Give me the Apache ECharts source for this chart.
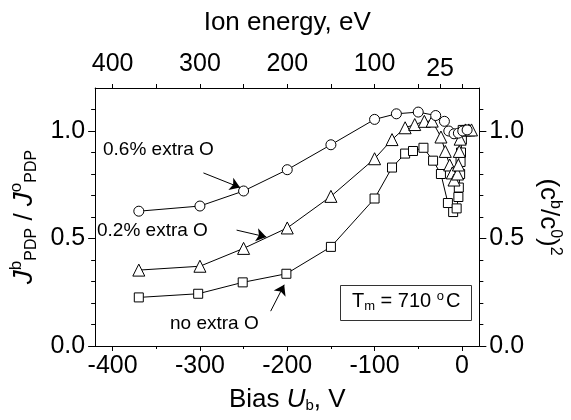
<!DOCTYPE html>
<html><head><meta charset="utf-8">
<script src="https://cdn.jsdelivr.net/npm/echarts@6/dist/echarts.min.js"></script>
<style>html,body{margin:0;padding:0;background:#fff}#c{width:571px;height:420px}</style>
</head><body><div id="c"></div>
<script>
// Bias U_b (V) and normalized values
const sqX  = [-370,-302,-251,-201,-150,-100,-80,-65,-56,-44,-33,-24,-16,-10,-6,-4,-3.5,-2,-1.5,-1,0,1,5];
const sqY  = [0.226,0.243,0.296,0.336,0.461,0.686,0.83,0.895,0.907,0.922,0.862,0.80,0.665,0.623,0.64,0.693,0.737,0.80,0.856,0.90,0.96,1.005,1.005];
const triX = [-370,-300,-250,-200,-150,-100,-80,-65,-54,-43,-34,-24,-19,-14,-11,-9,-5,-4,-3,-2,4,8,11];
const triY = [0.353,0.371,0.454,0.549,0.696,0.871,0.96,1.015,1.03,1.045,1.046,0.972,0.905,0.842,0.805,0.772,0.80,0.842,0.905,0.962,1.005,1.005,1.005];
const cirX = [-370,-300,-250,-200,-150,-100,-75,-50,-30,-20,-15,-9,-4,1,6];
const cirY = [0.627,0.651,0.721,0.820,0.936,1.054,1.08,1.088,1.072,1.045,1.0,0.987,0.99,1.0,1.005];

const biasLabels = [-400,-300,-200,-100,0];
const biasMinor  = [-350,-250,-150,-50];
const energyLabels = [-400,-300,-200,-100,-25];
const energyTicks = [-400,-350,-300,-250,-200,-150,-100,-50,-25,0];
const yLabels = [0,0.5,1.0];
const yMinor = [0.1,0.2,0.3,0.4,0.6,0.7,0.8,0.9,1.1];

const FONT = 'Liberation Sans, Arial, Helvetica, sans-serif';
const pair = (xs, ys) => xs.map((x, i) => [x, ys[i]]);

const chart = echarts.init(document.getElementById('c'));
const lineBlack = {color:'#000', width:1};
const axisLine = {show:true, onZero:false, lineStyle:{color:'#000', width:1}};
const noLine = {show:false, onZero:false};
const tickStyle = {color:'#000', width:1};

function baseX(extra){ return Object.assign({type:'value', min:-420, max:20, gridIndex:0, splitLine:{show:false}}, extra); }
function baseY(extra){ return Object.assign({type:'value', min:0, max:1.2, gridIndex:0, splitLine:{show:false}}, extra); }

const option = {
  animation:false,
  backgroundColor:'#fff',
  grid:{left:95, top:88, width:389, height:258},
  xAxis:[
    baseX({position:'bottom', axisLine,
      axisTick:{show:true, inside:false, length:5, lineStyle:tickStyle, customValues:biasLabels},
      axisLabel:{show:true, customValues:biasLabels, margin:8, color:'#000', fontFamily:FONT, fontSize:25},
      name:'{n|Bias }{i|U}{s|b}{n|, V}', nameLocation:'middle', nameGap:40,
      nameTextStyle:{color:'#000', fontFamily:FONT, fontSize:26,
        rich:{n:{fontFamily:FONT,fontSize:26,color:'#000'}, i:{fontFamily:FONT,fontSize:26,fontStyle:'italic',color:'#000'}, s:{fontFamily:FONT,fontSize:15,color:'#000',padding:[12,0,0,0]}}}
    }),
    baseX({position:'bottom', axisLine:noLine,
      axisTick:{show:true, inside:false, length:3, lineStyle:tickStyle, customValues:biasMinor},
      axisLabel:{show:false}
    }),
    baseX({position:'top', axisLine,
      axisTick:{show:true, inside:false, length:4, lineStyle:tickStyle, customValues:energyTicks},
      axisLabel:{show:true, customValues:energyLabels, margin:6, color:'#000', fontFamily:FONT, fontSize:25,
        formatter: v => (v === -25 ? '{l|' + (-v) + '}' : '{n|' + (-v) + '}'),
        rich:{n:{fontFamily:FONT,fontSize:25,color:'#000',padding:[0,0,5,0]}, l:{fontFamily:FONT,fontSize:25,color:'#000'}}},
      name:'Ion energy, eV', nameLocation:'middle', nameGap:52,
      nameTextStyle:{color:'#000', fontFamily:FONT, fontSize:26}
    })
  ],
  yAxis:[
    baseY({position:'left', axisLine,
      axisTick:{show:true, inside:false, length:7, lineStyle:tickStyle, customValues:yLabels},
      axisLabel:{show:true, customValues:yLabels, margin:10, color:'#000', fontFamily:FONT, fontSize:25, formatter: v => v.toFixed(1)},
      name:'{i|J}{sp|b}{sb|PDP}{n| / }{i|J}{sp|o}{sb|PDP}', nameLocation:'middle', nameGap:40, nameRotate:90,
      nameTextStyle:{color:'#000', fontFamily:FONT, fontSize:26,
        rich:{
          i:{fontFamily:FONT,fontSize:28,fontStyle:'italic',color:'#000'},
          n:{fontFamily:FONT,fontSize:26,color:'#000'},
          sp:{fontFamily:FONT,fontSize:17,color:'#000',padding:[0,0,16,0]},
          sb:{fontFamily:FONT,fontSize:16,color:'#000',padding:[14,0,0,0]}
        }}
    }),
    baseY({position:'left', axisLine:noLine,
      axisTick:{show:true, inside:false, length:4, lineStyle:tickStyle, customValues:yMinor},
      axisLabel:{show:false}
    }),
    baseY({position:'right', axisLine,
      axisTick:{show:true, inside:false, length:7, lineStyle:tickStyle, customValues:yLabels},
      axisLabel:{show:true, customValues:yLabels, margin:10, color:'#000', fontFamily:FONT, fontSize:25, formatter: v => v.toFixed(1)},
      name:'{n|(c}{s|b}{n|/c}{s|0}{n|)}{s|2}', nameLocation:'middle', nameGap:50, nameRotate:-90,
      nameTextStyle:{color:'#000', fontFamily:FONT, fontSize:26,
        rich:{n:{fontFamily:FONT,fontSize:26,color:'#000'}, s:{fontFamily:FONT,fontSize:16,color:'#000',padding:[0,0,14,0]}}}
    }),
    baseY({position:'right', axisLine:noLine,
      axisTick:{show:true, inside:false, length:4, lineStyle:tickStyle, customValues:yMinor},
      axisLabel:{show:false}
    })
  ],
  series:[
    {name:'no extra O', type:'line', xAxisIndex:0, yAxisIndex:0, data:pair(sqX, sqY), symbol:'rect', symbolSize:9,
     showAllSymbol:true, lineStyle:lineBlack, itemStyle:{color:'#fff', borderColor:'#000', borderWidth:1}, z:2},
    {name:'0.2% extra O', type:'line', xAxisIndex:0, yAxisIndex:0, data:pair(triX, triY), symbol:'triangle', symbolSize:12,
     showAllSymbol:true, lineStyle:lineBlack, itemStyle:{color:'#fff', borderColor:'#000', borderWidth:1}, z:3},
    {name:'0.6% extra O', type:'line', xAxisIndex:0, yAxisIndex:0, data:pair(cirX, cirY), symbol:'circle', symbolSize:10,
     showAllSymbol:true, lineStyle:lineBlack, itemStyle:{color:'#fff', borderColor:'#000', borderWidth:1}, z:4,
     markLine:{silent:true, symbol:['none','arrow'], symbolSize:10, label:{show:false},
       itemStyle:{color:'#000'},
       lineStyle:{color:'#000', width:1, type:'solid'},
       emphasis:{disabled:true},
       data:[
         [{coord:[-296,0.805]},{coord:[-254,0.737], itemStyle:{color:'#000'}}],
         [{coord:[-258,0.539]},{coord:[-224,0.507], itemStyle:{color:'#000'}}],
         [{coord:[-219,0.162]},{coord:[-203.5,0.285], itemStyle:{color:'#000'}}]
       ]}}
  ],
  graphic:[
    {type:'text', left:103, top:140, style:{text:'0.6% extra O', fill:'#000', font:'19px ' + FONT}},
    {type:'text', left:97, top:221, style:{text:'0.2% extra O', fill:'#000', font:'19px ' + FONT}},
    {type:'text', left:170, top:314, style:{text:'no extra O', fill:'#000', font:'19px ' + FONT}},
    {type:'rect', shape:{x:340.5, y:285.5, width:131, height:35}, style:{fill:'#fff', stroke:'#333', lineWidth:1}, z:10},
    {type:'text', left:352, top:290, z:11, style:{
      text:'{n|T}{sb|m}{n| = 710 }{sp|o}{n|C}',
      rich:{n:{fontFamily:FONT,fontSize:20,fill:'#000'}, sb:{fontFamily:FONT,fontSize:13,fill:'#000',padding:[10,0,0,0]}, sp:{fontFamily:FONT,fontSize:13,fill:'#000',padding:[0,2,10,0]}}
    }}
  ]
};
chart.setOption(option);
</script></body></html>
